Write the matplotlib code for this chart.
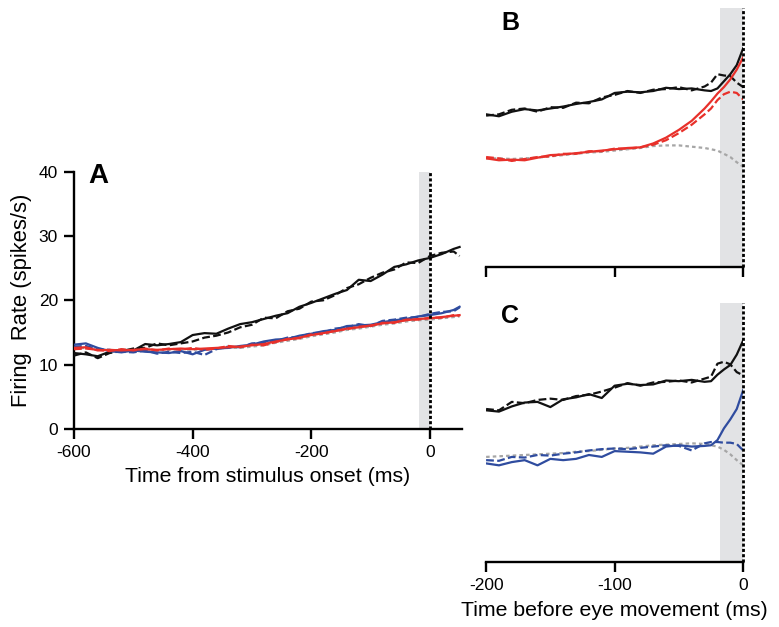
import matplotlib
matplotlib.use("Agg")
import matplotlib.pyplot as plt

plt.rcParams["font.family"] = ["Liberation Sans", "DejaVu Sans"]
plt.rcParams["axes.unicode_minus"] = False

# --- panel A: aligned to stimulus onset ---
t_a = [-600, -580, -560, -540, -520, -500, -480, -460, -440, -420, -400, -380, -360, -340,
       -320, -300, -280, -260, -240, -220, -200, -180, -160, -140, -120, -100, -80, -60,
       -40, -20, 0, 20, 40, 50]
a_black = [11.8, 11.6, 11.3, 12.0, 12.3, 12.2, 13.2, 13.0, 13.2, 13.5, 14.6, 14.9, 14.8, 15.6,
           16.3, 16.6, 17.1, 17.6, 18.0, 19.0, 19.6, 20.3, 21.0, 21.6, 23.2, 23.0, 24.0, 25.2,
           25.6, 26.2, 26.6, 27.2, 28.0, 28.3]
a_black_d = [11.4, 11.9, 11.0, 11.8, 12.1, 12.5, 12.6, 13.3, 13.0, 13.3, 13.6, 14.2, 14.5, 15.0,
             15.8, 16.2, 17.3, 17.2, 18.3, 18.7, 19.8, 20.0, 20.8, 21.9, 22.5, 23.5, 24.3, 24.8,
             25.9, 25.8, 26.9, 27.4, 27.6, 26.9]
a_blue = [13.1, 13.3, 12.6, 12.1, 11.9, 12.2, 12.0, 11.9, 11.8, 12.1, 11.6, 12.3, 12.5, 12.6,
          12.9, 13.1, 13.6, 13.9, 14.0, 14.5, 14.8, 15.2, 15.4, 16.0, 16.1, 16.2, 16.6, 16.9,
          17.1, 17.5, 17.7, 18.0, 18.5, 19.0]
a_blue_d = [12.8, 12.9, 12.4, 12.3, 12.0, 11.9, 12.2, 11.7, 12.0, 11.8, 12.0, 11.5, 12.4, 12.8,
            12.7, 13.3, 13.4, 13.7, 14.2, 14.3, 14.9, 15.0, 15.6, 15.8, 16.3, 16.0, 16.8, 17.0,
            17.3, 17.4, 17.9, 18.2, 18.3, 18.9]
a_red = [12.6, 12.7, 12.2, 12.3, 12.2, 12.3, 12.4, 12.3, 12.4, 12.5, 12.4, 12.5, 12.6, 12.7,
         12.8, 13.0, 13.2, 13.6, 13.9, 14.2, 14.6, 14.9, 15.2, 15.6, 15.8, 16.1, 16.4, 16.6,
         16.9, 17.1, 17.2, 17.4, 17.6, 17.7]
a_red_d = [12.4, 12.5, 12.3, 12.1, 12.4, 12.2, 12.5, 12.2, 12.5, 12.3, 12.6, 12.3, 12.5, 12.9,
           12.7, 13.1, 13.0, 13.5, 14.0, 14.1, 14.7, 14.8, 15.3, 15.5, 15.9, 16.0, 16.5, 16.5,
           17.0, 17.0, 17.3, 17.3, 17.7, 17.6]
a_gray = [12.5, 12.6, 12.3, 12.2, 12.3, 12.2, 12.3, 12.2, 12.3, 12.4, 12.3, 12.4, 12.5, 12.6,
          12.6, 12.8, 13.0, 13.4, 13.7, 14.0, 14.4, 14.7, 15.0, 15.4, 15.6, 15.9, 16.2, 16.4,
          16.7, 16.9, 17.0, 17.2, 17.4, 17.5]

# --- panels B, C: aligned to eye movement ---
t_bc = [-200, -190, -180, -170, -160, -150, -140, -130, -120, -110, -100, -90, -80, -70,
        -60, -50, -40, -30, -25, -20, -15, -10, -5, 0]
b_black = [23.6, 23.3, 24.0, 24.4, 24.2, 24.5, 24.8, 25.2, 25.5, 25.9, 26.9, 27.1, 27.0, 27.2,
           27.7, 27.5, 27.6, 27.3, 27.2, 27.6, 28.7, 29.8, 31.2, 33.8]
b_black_d = [23.4, 23.6, 24.3, 24.5, 24.0, 24.7, 24.6, 25.4, 25.3, 26.2, 26.6, 27.2, 26.9, 27.4,
             27.5, 27.8, 27.3, 27.9, 28.5, 29.8, 29.6, 29.5, 28.5, 27.8]
b_red = [16.8, 16.5, 16.6, 16.5, 16.9, 17.3, 17.4, 17.6, 17.8, 18.0, 18.2, 18.4, 18.5, 19.1,
         20.0, 21.2, 22.6, 24.5, 25.6, 26.8, 27.8, 29.0, 30.5, 32.4]
b_red_d = [17.0, 16.8, 16.4, 16.7, 17.0, 17.1, 17.5, 17.5, 17.9, 17.9, 18.3, 18.3, 18.5, 18.9,
           19.6, 20.7, 22.0, 23.6, 24.5, 25.8, 26.7, 27.1, 26.9, 25.9]
b_gray = [16.8, 16.8, 16.7, 16.8, 16.9, 17.1, 17.3, 17.5, 17.7, 17.8, 18.0, 18.2, 18.4, 18.7,
          18.8, 18.8, 18.6, 18.4, 18.2, 18.0, 17.5, 17.0, 16.2, 15.5]

c_black = [23.4, 23.2, 24.0, 24.6, 24.7, 23.9, 25.1, 25.4, 25.9, 25.3, 27.2, 27.5, 27.3, 27.4,
           28.0, 27.9, 28.1, 27.8, 27.9, 28.9, 29.7, 30.4, 32.0, 34.2]
c_black_d = [23.6, 23.4, 24.7, 24.5, 25.0, 25.2, 25.0, 25.6, 25.8, 26.3, 26.9, 27.6, 27.2, 27.7,
             27.8, 28.0, 27.7, 28.3, 28.6, 30.6, 30.9, 30.5, 29.3, 28.8]
c_blue = [15.2, 14.9, 15.4, 15.7, 14.9, 15.9, 15.7, 15.9, 16.5, 16.2, 17.1, 17.0, 16.9, 16.7,
          17.8, 18.0, 17.8, 17.9, 18.0, 18.8, 20.6, 22.0, 23.6, 26.5]
c_blue_d = [15.7, 15.6, 16.2, 16.1, 16.5, 16.4, 16.7, 16.9, 17.2, 17.4, 17.5, 17.4, 17.6, 17.8,
            18.0, 17.9, 17.2, 18.3, 18.5, 18.5, 18.4, 18.4, 18.2, 17.2]
c_gray = [16.2, 16.3, 16.4, 16.5, 16.6, 16.7, 16.8, 17.0, 17.1, 17.3, 17.5, 17.6, 17.8, 18.0,
          18.1, 18.2, 18.3, 18.2, 18.0, 17.8, 17.3, 16.6, 15.7, 14.9]

BLACK = "#111111"
RED = "#e8302a"
BLUE = "#2f4c9f"
GRAY = "#a6a6a6"
SHADE = "#e2e3e5"

fig = plt.figure(figsize=(7.79, 6.27), dpi=100)
ax_a = fig.add_axes([0.095, 0.316, 0.498, 0.410])
ax_b = fig.add_axes([0.624, 0.574, 0.330, 0.413])
ax_c = fig.add_axes([0.624, 0.104, 0.330, 0.413])


def _style(ax, show_y=True):
    for s in ("top", "right"):
        ax.spines[s].set_visible(False)
    ax.spines["bottom"].set_linewidth(1.7)
    ax.spines["left"].set_linewidth(1.7)
    if not show_y:
        ax.spines["left"].set_visible(False)
        ax.set_yticks([])
    ax.tick_params(direction="out", length=7.5, width=1.7, labelsize=12.5, colors="black", pad=4)
    ax.set_ylim(0, 40)
    ax.axvspan(-18, 0, color=SHADE, lw=0, zorder=0)
    ax.axvline(0, color="black", ls=(0, (1.1, 0.8)), lw=2.0, zorder=5, clip_on=False)


def _trace(ax, t, y, color, dashed=False):
    ls = (0, (3.5, 1.5)) if dashed else "-"
    ax.plot(t, y, color=color, lw=1.6, ls=ls, zorder=3)


def _gray(ax, t, y):
    ax.plot(t, y, color=GRAY, lw=1.6, ls=(0, (1.6, 1.4)), zorder=2)


# A
_style(ax_a)
_gray(ax_a, t_a, a_gray)
_trace(ax_a, t_a, a_black, BLACK)
_trace(ax_a, t_a, a_black_d, BLACK, dashed=True)
_trace(ax_a, t_a, a_blue, BLUE)
_trace(ax_a, t_a, a_blue_d, BLUE, dashed=True)
_trace(ax_a, t_a, a_red_d, RED, dashed=True)
_trace(ax_a, t_a, a_red, RED)
ax_a.set_xlim(-600, 54)
ax_a.set_xticks([-600, -400, -200, 0])
ax_a.set_yticks([0, 10, 20, 30, 40])
ax_a.set_xlabel("Time from stimulus onset (ms)", fontsize=15.3, labelpad=5)
ax_a.set_ylabel("Firing  Rate (spikes/s)", fontsize=15.8, labelpad=5)

# B
_style(ax_b, show_y=False)
_gray(ax_b, t_bc, b_gray)
_trace(ax_b, t_bc, b_black, BLACK)
_trace(ax_b, t_bc, b_black_d, BLACK, dashed=True)
_trace(ax_b, t_bc, b_red_d, RED, dashed=True)
_trace(ax_b, t_bc, b_red, RED)
ax_b.set_xlim(-200, 0)
ax_b.set_xticks([-200, -100, 0])
ax_b.set_xticklabels([])

# C
_style(ax_c, show_y=False)
_gray(ax_c, t_bc, c_gray)
_trace(ax_c, t_bc, c_black, BLACK)
_trace(ax_c, t_bc, c_black_d, BLACK, dashed=True)
_trace(ax_c, t_bc, c_blue_d, BLUE, dashed=True)
_trace(ax_c, t_bc, c_blue, BLUE)
ax_c.set_xlim(-200, 0)
ax_c.set_xticks([-200, -100, 0])
ax_c.set_xlabel("Time before eye movement (ms)", fontsize=15.3, labelpad=6)

fig.text(0.113, 0.708, "A", fontsize=20, fontweight="bold")
fig.text(0.643, 0.952, "B", fontsize=18, fontweight="bold")
fig.text(0.643, 0.485, "C", fontsize=18, fontweight="bold")

fig.savefig("out.png", dpi=100)
